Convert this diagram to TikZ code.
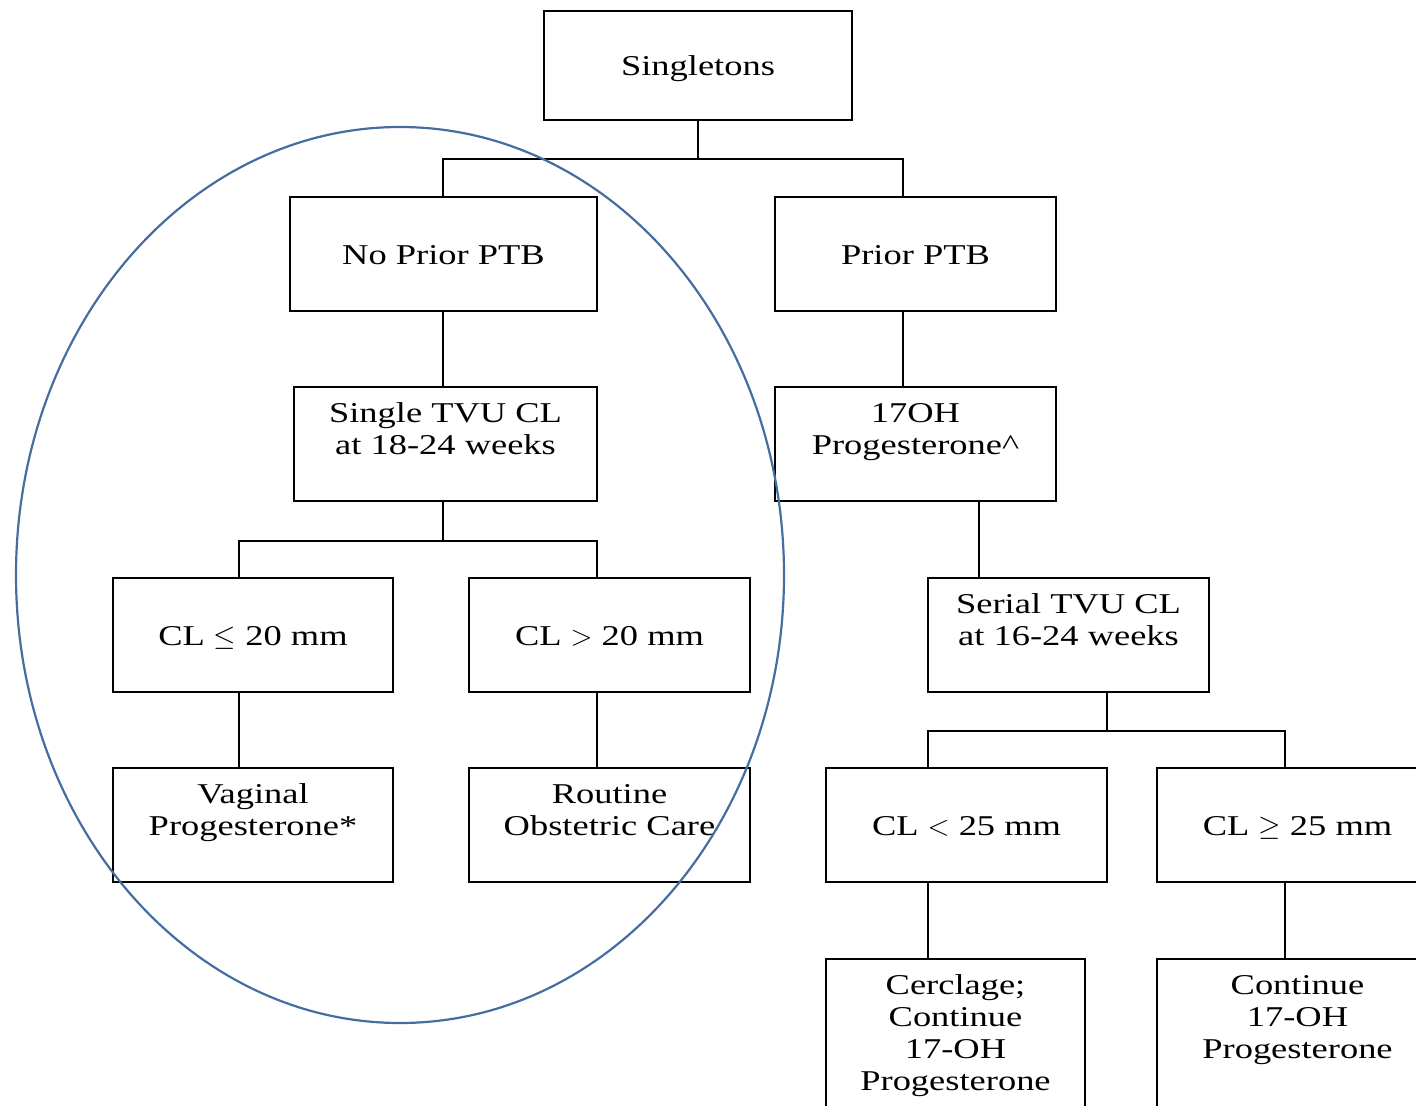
\documentclass[tikz,border=0pt]{standalone}
\usepackage{fontspec}
\setmainfont[FakeStretch=1.27]{Liberation Serif}
\usetikzlibrary{positioning}
\tikzset{box/.style={draw,line width=0.9pt,inner sep=0pt,minimum height=57pt,align=center},
  oneline/.style={text height=12pt,text depth=1.5pt},
  link/.style={line width=0.9pt},
  ring/.style={line width=1.1pt,draw={rgb,255:red,68;green,110;blue,160}}}
\newcommand\toptext[2][57pt]{\parbox[c][#1][t]{125pt}{\centering\rule{0pt}{17.7pt}#2}}

\begin{document}
\begin{tikzpicture}[x=0.5pt,y=-0.5pt,font=\fontsize{14.35}{16}\selectfont]
    \clip (0,0) rectangle (1416,1106);
    % boxes
    \node [box,oneline,minimum width=154pt,minimum height=54.5pt] (single) at (698,65.5) {Singletons};
    \node [box,oneline,minimum width=153.5pt] (noprior) at (443.5,254) {No Prior PTB};
    \node [box,oneline,minimum width=140.5pt] (prior) at (915.5,254) {Prior PTB};
    \node [box,minimum width=151.5pt] (tvu) at (445.5,444) {\toptext{Single TVU CL\\at 18-24 weeks}};
    \node [box,minimum width=140.5pt] (ohp) at (915.5,444) {\toptext{17OH\\Progesterone\^{}}};
    \node [box,minimum width=140.5pt] (serial) at (1068.5,635) {\toptext{Serial TVU CL\\at 16-24 weeks}};
    \node [box,oneline,minimum width=140pt] (cle) at (253,635) {CL $\leq$ 20 mm};
    \node [box,oneline,minimum width=140.5pt] (clg) at (609.5,635) {CL $>$ 20 mm};
    \node [box,minimum width=140pt] (vag) at (253,825) {\toptext{Vaginal\\Progesterone*}};
    \node [box,minimum width=140.5pt] (routine) at (609.5,825) {\toptext{Routine\\Obstetric Care}};
    \node [box,oneline,minimum width=140.5pt] (cll) at (966.5,825) {CL $<$ 25 mm};
    \node [box,oneline,minimum width=140.5pt] (clge) at (1297.5,825) {CL $\geq$ 25 mm};
    \node [box,minimum width=129.5pt,minimum height=81pt] (cerclage) at (955.5,1040) {\toptext[81pt]{Cerclage;\\Continue\\17-OH\\Progesterone}};
    \node [box,minimum width=140.5pt,minimum height=81pt] (cont) at (1297.5,1040) {\toptext[81pt]{Continue\\17-OH\\Progesterone}};
    % connectors
    \draw [link] (single.south) -- ++(0,38) coordinate (j1) -| ([xshift=-0.25pt]noprior.north);
    \draw [link] (j1) -| ([xshift=-6.25pt]prior.north);
    \draw [link] ([xshift=-0.25pt]noprior.south) -- ([xshift=-0.25pt]noprior.south |- tvu.north);
    \draw [link] ([xshift=-6.25pt]prior.south) -- ([xshift=-6.25pt]ohp.north);
    \draw [link] ([xshift=31.75pt]ohp.south) -- ([xshift=31.75pt]ohp.south |- serial.north);
    \draw [link] ([xshift=-1.25pt]tvu.south) -- ++(0,39) coordinate (j2) -| ([xshift=-7pt]cle.north);
    \draw [link] (j2) -| ([xshift=-6.25pt]clg.north);
    \draw [link] ([xshift=-7pt]cle.south) -- ([xshift=-7pt]vag.north);
    \draw [link] ([xshift=-6.25pt]clg.south) -- ([xshift=-6.25pt]routine.north);
    \draw [link] ([xshift=19.25pt]serial.south) -- ++(0,38) coordinate (j3) -| ([xshift=-19.25pt]cll.north);
    \draw [link] (j3) -| ([xshift=-6.25pt]clge.north);
    \draw [link] ([xshift=-19.25pt]cll.south) -- ([xshift=-13.75pt]cerclage.north);
    \draw [link] ([xshift=-6.25pt]clge.south) -- ([xshift=-6.25pt]cont.north);
    % ring round the no prior branch
    \draw [ring] (400,575) ellipse [x radius=192pt,y radius=224pt];
\end{tikzpicture}
\end{document}
